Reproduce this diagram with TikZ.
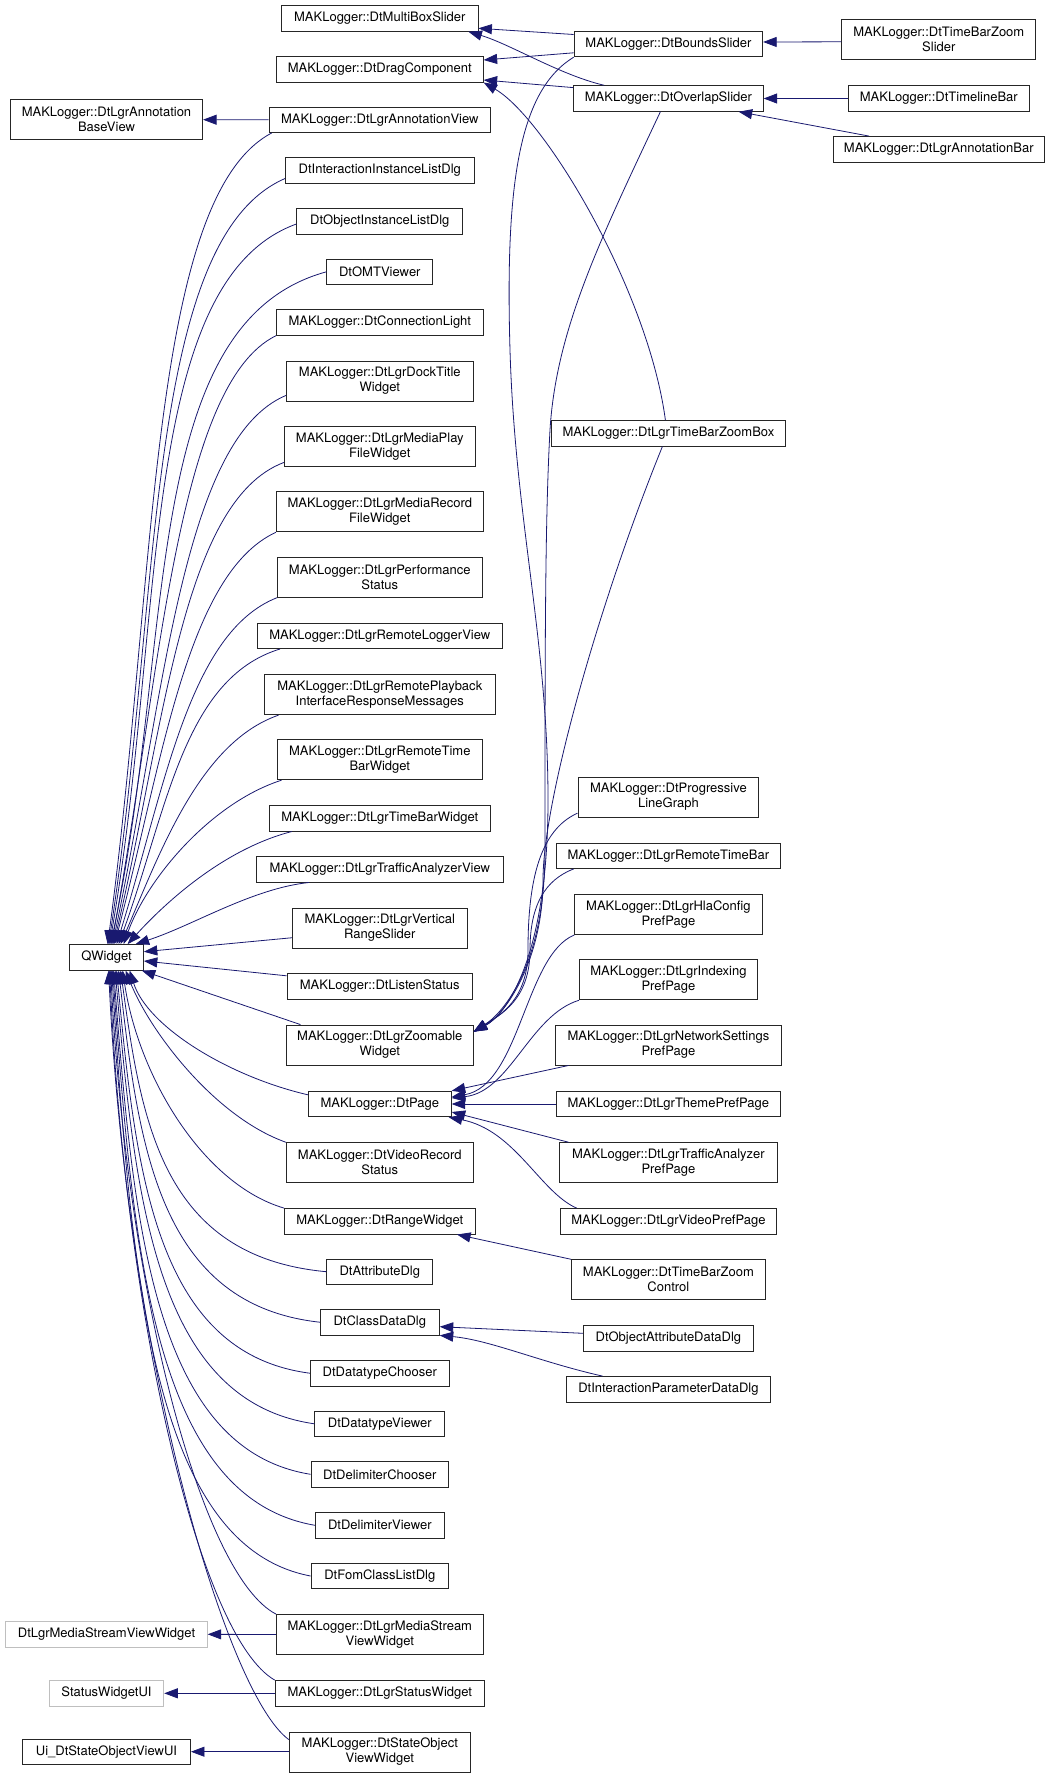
\documentclass[tikz,border=0pt]{standalone}
\usepackage{fontspec}
\setmainfont{TeX Gyre Heros}
\usetikzlibrary{arrows.meta,calc}
\definecolor{edgeblue}{HTML}{191970}
\tikzset{
  cls/.style={draw=black!85, line width=0.9pt, fill=white, inner sep=0pt, align=center,
    minimum height=25.5pt, font=\fontsize{13}{15}\selectfont, text=black},
  two/.style={minimum height=40pt},
  ext/.style={draw=black!25},
  inh/.style={draw=edgeblue, line width=0.8pt, arrows={Triangle[length=13.5pt,width=10pt]-}}
}
\newcommand{\qedge}[6]{%
  \draw[inh] let \p1=(#1), \p2=(#2), \n1={\x2-\x1}, \n2={\y2-\y1} in
    (\p1) .. controls ({\x1+#5*\n1},{\y1+#6*(\n2)}) and ({\x2-#3*\n1},{\y2-#4*(\n2)}) .. (\p2);
}
\begin{document}
\begin{tikzpicture}[x=1pt,y=-1pt]
\fill[white] (0,0) rectangle (1053,1777);
\useasboundingbox (0,0) rectangle (1053,1777);

% column 0
\node[cls,two,minimum width=192.3pt] (abv) at (106.5,119.7) {MAKLogger::DtLgrAnnotation\\BaseView};
\node[cls,minimum width=73.7pt] (qw) at (106.5,957.3) {QWidget};
\node[cls,ext,minimum width=201.5pt] (msvwx) at (106.5,1634.3) {DtLgrMediaStreamViewWidget};
\node[cls,ext,minimum width=114.6pt] (swui) at (106.5,1693.3) {StatusWidgetUI};
\node[cls,minimum width=168pt] (uisov) at (106.5,1751.7) {Ui\_DtStateObjectViewUI};

% column 1
\node[cls,minimum width=196.3pt] (mbs) at (379.8,18.5) {MAKLogger::DtMultiBoxSlider};
\node[cls,minimum width=206.8pt] (drag) at (379.8,69.3) {MAKLogger::DtDragComponent};
\node[cls,minimum width=221.4pt] (av) at (379.8,119.8) {MAKLogger::DtLgrAnnotationView};
\node[cls,minimum width=188.6pt] (iil) at (379.8,170.3) {DtInteractionInstanceListDlg};
\node[cls,minimum width=165.9pt] (oil) at (379.8,221.3) {DtObjectInstanceListDlg};
\node[cls,minimum width=105.8pt] (omt) at (379.8,271.8) {DtOMTViewer};
\node[cls,minimum width=206.8pt] (cl) at (379.8,322.5) {MAKLogger::DtConnectionLight};
\node[cls,two,minimum width=186.9pt] (dock) at (379.8,381) {MAKLogger::DtLgrDockTitle\\Widget};
\node[cls,two,minimum width=190.9pt] (mplay) at (379.8,446.3) {MAKLogger::DtLgrMediaPlay\\FileWidget};
\node[cls,two,minimum width=206.8pt] (mrec) at (379.8,511.8) {MAKLogger::DtLgrMediaRecord\\FileWidget};
\node[cls,two,minimum width=204.5pt] (perf) at (379.8,577.2) {MAKLogger::DtLgrPerformance\\Status};
\node[cls,minimum width=244.7pt] (rlv) at (379.8,635.8) {MAKLogger::DtLgrRemoteLoggerView};
\node[cls,two,minimum width=230.9pt] (rpb) at (379.8,694.7) {MAKLogger::DtLgrRemotePlayback\\InterfaceResponseMessages};
\node[cls,two,minimum width=205.5pt] (rtbw) at (379.8,759.7) {MAKLogger::DtLgrRemoteTime\\BarWidget};
\node[cls,minimum width=220.4pt] (tbw) at (379.8,818.3) {MAKLogger::DtLgrTimeBarWidget};
\node[cls,minimum width=247.1pt] (tav) at (379.8,869.3) {MAKLogger::DtLgrTrafficAnalyzerView};
\node[cls,two,minimum width=175.1pt] (vrs) at (379.8,928) {MAKLogger::DtLgrVertical\\RangeSlider};
\node[cls,minimum width=185.5pt] (ls) at (379.8,986.3) {MAKLogger::DtListenStatus};
\node[cls,two,minimum width=186.9pt] (zw) at (379.8,1045) {MAKLogger::DtLgrZoomable\\Widget};
\node[cls,minimum width=142.9pt] (page) at (379.8,1104) {MAKLogger::DtPage};
\node[cls,two,minimum width=186.9pt] (vrec) at (379.8,1162.7) {MAKLogger::DtVideoRecord\\Status};
\node[cls,minimum width=190.6pt] (rw) at (379.8,1221.3) {MAKLogger::DtRangeWidget};
\node[cls,minimum width=105.8pt] (attr) at (379.8,1271.7) {DtAttributeDlg};
\node[cls,minimum width=119pt] (cdd) at (379.8,1322.2) {DtClassDataDlg};
\node[cls,minimum width=138.9pt] (dtc) at (379.8,1373.2) {DtDatatypeChooser};
\node[cls,minimum width=129.8pt] (dtv) at (379.8,1423.8) {DtDatatypeViewer};
\node[cls,minimum width=137.5pt] (dlc) at (379.8,1474.3) {DtDelimiterChooser};
\node[cls,minimum width=128.7pt] (dlv) at (379.8,1525.3) {DtDelimiterViewer};
\node[cls,minimum width=137.5pt] (fcl) at (379.8,1576) {DtFomClassListDlg};
\node[cls,two,minimum width=206.8pt] (msvw) at (379.8,1634.5) {MAKLogger::DtLgrMediaStream\\ViewWidget};
\node[cls,minimum width=209.2pt] (sw) at (379.8,1693.3) {MAKLogger::DtLgrStatusWidget};
\node[cls,two,minimum width=181.2pt] (sov) at (379.8,1752) {MAKLogger::DtStateObject\\ViewWidget};

% column 2
\node[cls,minimum width=188.6pt] (bs) at (668.4,44) {MAKLogger::DtBoundsSlider};
\node[cls,minimum width=189.6pt] (ovl) at (668.4,98.5) {MAKLogger::DtOverlapSlider};
\node[cls,minimum width=233.6pt] (tbzb) at (668.4,433.3) {MAKLogger::DtLgrTimeBarZoomBox};
\node[cls,two,minimum width=180.9pt] (plg) at (668.4,797) {MAKLogger::DtProgressive\\LineGraph};
\node[cls,minimum width=224.7pt] (rtb) at (668.4,855.7) {MAKLogger::DtLgrRemoteTimeBar};
\node[cls,two,minimum width=187.2pt] (hla) at (668.4,914.5) {MAKLogger::DtLgrHlaConfig\\PrefPage};
\node[cls,two,minimum width=177.8pt] (idx) at (668.4,979.8) {MAKLogger::DtLgrIndexing\\PrefPage};
\node[cls,two,minimum width=225.8pt] (net) at (668.4,1045) {MAKLogger::DtLgrNetworkSettings\\PrefPage};
\node[cls,minimum width=223.1pt] (theme) at (668.4,1104) {MAKLogger::DtLgrThemePrefPage};
\node[cls,two,minimum width=217.7pt] (tapp) at (668.4,1162.7) {MAKLogger::DtLgrTrafficAnalyzer\\PrefPage};
\node[cls,minimum width=216.7pt] (video) at (668.4,1221.3) {MAKLogger::DtLgrVideoPrefPage};
\node[cls,two,minimum width=194pt] (tbzc) at (668.4,1279.7) {MAKLogger::DtTimeBarZoom\\Control};
\node[cls,minimum width=170pt] (oadd) at (668.4,1338.5) {DtObjectAttributeDataDlg};
\node[cls,minimum width=204.5pt] (ipdd) at (668.4,1389.3) {DtInteractionParameterDataDlg};

% column 3
\node[cls,two,minimum width=194pt] (tbzs) at (938.8,39.8) {MAKLogger::DtTimeBarZoom\\Slider};
\node[cls,minimum width=180.5pt] (tlb) at (938.8,98.5) {MAKLogger::DtTimelineBar};
\node[cls,minimum width=210.5pt] (lab) at (938.8,149.3) {MAKLogger::DtLgrAnnotationBar};

% ---- edges: top children of QWidget
\qedge{[xshift=38.4pt]qw.north west}{[xshift=3pt]av.south west}{0.75}{0.08}{0.3}{0.45}
\qedge{[xshift=39.4pt]qw.north west}{[yshift=5pt]iil.south west}{0.8}{0.08}{0.3}{0.45}
\qedge{[xshift=40.4pt]qw.north west}{[yshift=-2.7pt]oil.west}{0.85}{0.08}{0.3}{0.45}
\qedge{[xshift=41.4pt]qw.north west}{omt.west}{0.87}{0.076}{0.3}{0.45}
\qedge{[xshift=42.4pt]qw.north west}{cl.south west}{0.6}{0.08}{0.3}{0.45}
\qedge{[xshift=43.4pt]qw.north west}{[yshift=6pt]dock.south west}{0.6}{0.08}{0.3}{0.45}
\qedge{[xshift=44.4pt]qw.north west}{[yshift=4.3pt]mplay.south west}{0.6}{0.08}{0.3}{0.45}
\qedge{[xshift=45.4pt]qw.north west}{mrec.south west}{0.55}{0.1}{0.3}{0.45}
\qedge{[xshift=47.4pt]qw.north west}{perf.south west}{0.55}{0.1}{0.3}{0.45}
\qedge{[xshift=49.4pt]qw.north west}{[xshift=23pt]rlv.south west}{0.6}{0.1}{0.3}{0.45}
\qedge{[xshift=51.4pt]qw.north west}{[xshift=14.6pt]rpb.south west}{0.5}{0.12}{0.25}{0.4}
\qedge{[xshift=54.4pt]qw.north west}{[xshift=5pt]rtbw.south west}{0.45}{0.14}{0.15}{0.4}
\qedge{[xshift=58.4pt]qw.north west}{[xshift=22.7pt]tbw.south west}{0.4}{0.15}{0.25}{0.4}
\qedge{[xshift=66.4pt]qw.north west}{[xshift=53pt]tav.south west}{0.33}{0.1}{0.33}{0.3}
% right side
\draw[inh] ([yshift=5.6pt]qw.east) -- ([yshift=10.7pt]vrs.south west);
\draw[inh] ([yshift=-3.7pt]qw.east) -- ([yshift=-2.7pt]ls.north west);
\draw[inh] ([xshift=-2pt]qw.south east) -- ([xshift=14.5pt]zw.north west);
% bottom children
\qedge{[xshift=60.4pt]qw.south west}{[yshift=-4pt]page.north west}{0.45}{0.15}{0.1}{0.45}
\qedge{[xshift=56.4pt]qw.south west}{vrec.north west}{0.45}{0.15}{0.15}{0.35}
\qedge{[xshift=53.4pt]qw.south west}{rw.north west}{0.5}{0.1}{0.1}{0.45}
\qedge{[xshift=51.4pt]qw.south west}{attr.west}{0.8}{0.05}{0.1}{0.5}
\qedge{[xshift=49.4pt]qw.south west}{cdd.west}{0.8}{0.05}{0.1}{0.5}
\qedge{[xshift=47.4pt]qw.south west}{dtc.west}{0.8}{0.05}{0.1}{0.5}
\qedge{[xshift=45.9pt]qw.south west}{dtv.west}{0.8}{0.05}{0.1}{0.5}
\qedge{[xshift=44.4pt]qw.south west}{dlc.west}{0.8}{0.05}{0.1}{0.5}
\qedge{[xshift=43.4pt]qw.south west}{dlv.west}{0.8}{0.05}{0.1}{0.5}
\qedge{[xshift=42.4pt]qw.south west}{fcl.west}{0.8}{0.05}{0.1}{0.5}
\qedge{[xshift=41.4pt]qw.south west}{msvw.north west}{0.45}{0.06}{0.1}{0.5}
\qedge{[xshift=40.4pt]qw.south west}{sw.north west}{0.45}{0.06}{0.1}{0.5}
\qedge{[xshift=39.4pt]qw.south west}{[yshift=-8pt]sov.north west}{0.35}{0.06}{0.1}{0.5}

% ---- other inheritance edges
\draw[inh] (abv.east) -- (av.west);
\draw[inh] ([yshift=-9.8pt]mbs.east) -- ([yshift=-3.7pt]bs.north west);
\draw[inh] ([xshift=-10pt]mbs.south east) .. controls (510,44) and (560,75) .. ([xshift=31pt]ovl.north west);
\draw[inh] ([yshift=9.3pt]drag.east) -- ([yshift=4.4pt]bs.south west);
\draw[inh] ([yshift=-10.7pt]drag.east) -- ([yshift=-2.3pt]ovl.north west);
\draw[inh] (drag.south east) .. controls (545,118) and (648,290) .. ([xshift=-3pt]tbzb.north);
\draw[inh] ([yshift=2pt]bs.east) -- ([yshift=-2pt]tbzs.west);
\draw[inh] (ovl.east) -- (tlb.west);
\draw[inh] ([xshift=-25pt]ovl.south east) -- ([xshift=36pt]lab.north west);

% into DtLgrZoomableWidget
\draw[inh] ([yshift=13.3pt]zw.east) .. controls (505,1015) and (548,960) .. (548,800)
   .. controls (548,640) and (515,520) .. (510,350)
   .. controls (505,180) and (520,90) .. (bs.south west);
\draw[inh] ([yshift=13.3pt]zw.east) .. controls (500,1015) and (545,970) .. (545,850)
   .. controls (545,650) and (545,520) .. (550,430)
   .. controls (556,330) and (600,240) .. ([xshift=-8pt]ovl.south);
\draw[inh] ([yshift=13.3pt]zw.east) .. controls (505,1015) and (543,960) .. (543,880)
   .. controls (543,800) and (600,600) .. ([xshift=-6pt]tbzb.south);
\draw[inh] ([yshift=13.3pt]zw.east) .. controls (500,1015) and (528,1000) .. (528,950)
   .. controls (528,880) and (540,830) .. ([yshift=4.3pt]plg.south west);
\draw[inh] ([yshift=13.3pt]zw.east) .. controls (500,1015) and (530,1000) .. (530,950)
   .. controls (530,905) and (545,880) .. ([xshift=18pt]rtb.south west);

% into DtPage
\draw[inh] (page.north east) -- ([xshift=13.5pt]net.south west);
\draw[inh] ([yshift=7pt]page.east) .. controls (520,1085) and (525,955) .. (hla.south west);
\draw[inh] ([yshift=6pt]page.east) .. controls (510,1092) and (530,1015) .. (idx.south west);
\draw[inh] (page.east) -- (theme.west);
\draw[inh] ([yshift=-8pt]page.east) -- ([xshift=9.5pt]tapp.north west);
\draw[inh] ([xshift=-3pt]page.south east) .. controls (515,1130) and (540,1192) .. ([xshift=17pt]video.north west);

% others
\draw[inh] ([xshift=-18.5pt]rw.south east) -- (tbzc.north west);
\draw[inh] ([yshift=-4.5pt]cdd.east) -- ([yshift=5.2pt]oadd.west);
\draw[inh] (cdd.south east) .. controls (490,1340) and (540,1362) .. ([xshift=36.8pt]ipdd.north west);
\draw[inh] (msvwx.east) -- (msvw.west);
\draw[inh] (swui.east) -- (sw.west);
\draw[inh] (uisov.east) -- (uisov.east -| sov.west);
\end{tikzpicture}
\end{document}
